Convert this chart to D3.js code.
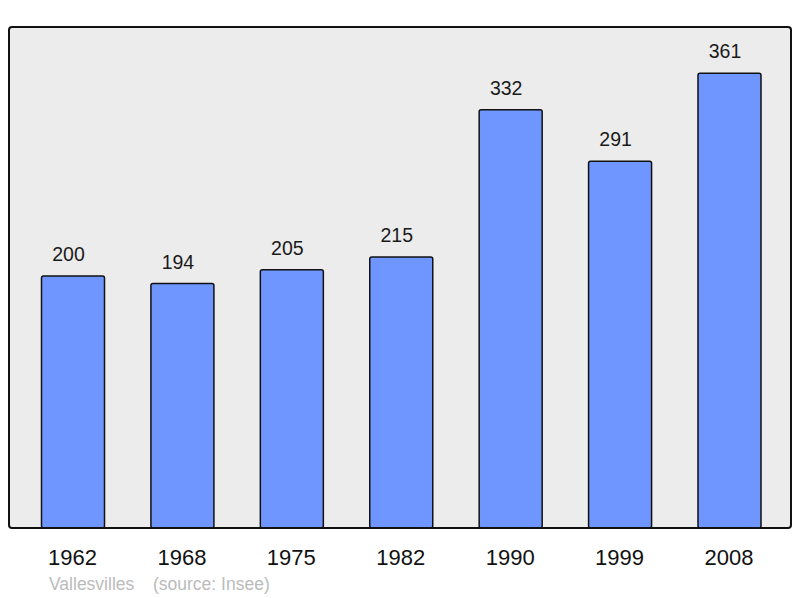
<!DOCTYPE html>
<html>
<head>
<meta charset="utf-8">
<script src="https://cdn.jsdelivr.net/npm/d3@7"></script>
<style>
  body { margin: 0; background: #fff; }
  text { font-family: "Liberation Sans", Arial, sans-serif; }
</style>
</head>
<body>
<div id="chart"></div>
<script>
const years = ["1962", "1968", "1975", "1982", "1990", "1999", "2008"];
const population = [200, 194, 205, 215, 332, 291, 361];
const commune = "Vallesvilles";
const source = "(source: Insee)";

const width = 800, height = 598;
const frame = {left: 9, top: 27, right: 791, bottom: 528};

const svg = d3.select("#chart").append("svg")
    .attr("width", width)
    .attr("height", height);

// plot background
svg.append("rect")
    .attr("x", frame.left)
    .attr("y", frame.top)
    .attr("width", frame.right - frame.left)
    .attr("height", frame.bottom - frame.top)
    .attr("rx", 3)
    .attr("fill", "#ececec");

// bar centres run from 73 to 729.5
let x = d3.scalePoint()
    .domain(years)
    .range([18.3, 784.2])
    .padding(0.5);

let y = d3.scaleLinear()
    .domain([0, 400])
    .range([frame.bottom, frame.bottom - 504]);

const barW = 63;
const data = years.map((yr, i) => ({year: yr, value: population[i]}));

svg.selectAll("rect.bar")
    .data(data)
    .enter()
    .append("rect")
    .attr("class", "bar")
    .attr("x", d => x(d.year) - barW / 2)
    .attr("y", d => y(d.value))
    .attr("width", barW)
    .attr("height", d => y(0) - y(d.value))
    .attr("rx", 2)
    .attr("fill", "#6f96ff")
    .attr("stroke", "#111")
    .attr("stroke-width", 1.5);

// value labels sit a little left of the bar centre
svg.selectAll("text.val")
    .data(data)
    .enter()
    .append("text")
    .attr("class", "val")
    .attr("x", d => x(d.year) - 4.5)
    .attr("y", d => y(d.value) - 15)
    .attr("text-anchor", "middle")
    .attr("font-size", 19.5)
    .attr("fill", "#1a1a1a")
    .text(d => d.value);

// frame border on top so the bar bottoms sit on it
svg.append("rect")
    .attr("x", frame.left)
    .attr("y", frame.top)
    .attr("width", frame.right - frame.left)
    .attr("height", frame.bottom - frame.top)
    .attr("rx", 3)
    .attr("fill", "none")
    .attr("stroke", "#111")
    .attr("stroke-width", 2);

// x axis labels
let xAxis = svg.append("g")
    .attr("transform", "translate(0," + frame.bottom + ")")
    .call(d3.axisBottom(x).tickSize(0).tickPadding(0));
xAxis.select(".domain").remove();
xAxis.selectAll("text")
    .attr("x", -1)
    .attr("y", 37)
    .attr("dy", null)
    .attr("font-size", 22)
    .attr("font-family", "Liberation Sans, Arial, sans-serif")
    .attr("fill", "#111");

svg.append("text")
    .attr("x", 49)
    .attr("y", 590)
    .attr("font-size", 17.5)
    .attr("fill", "#bbbbbb")
    .text(commune);

svg.append("text")
    .attr("x", 153)
    .attr("y", 590)
    .attr("font-size", 17.5)
    .attr("fill", "#bbbbbb")
    .text(source);
</script>
</body>
</html>
